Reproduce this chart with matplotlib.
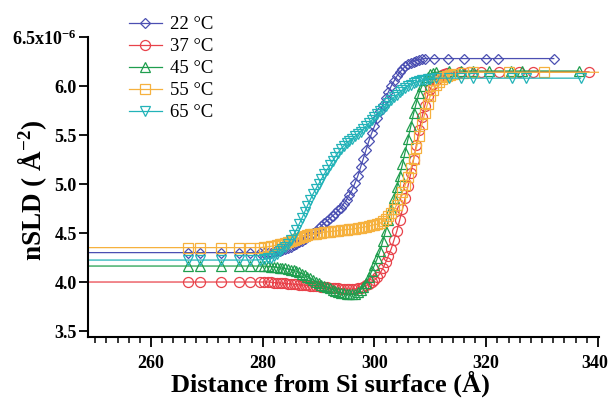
import matplotlib
matplotlib.use("Agg")
import matplotlib.pyplot as plt
import matplotlib.transforms as mtransforms
from matplotlib.ticker import FixedLocator, FixedFormatter, MultipleLocator

plt.rcParams["font.family"] = ["Liberation Serif", "DejaVu Serif"]
plt.rcParams["mathtext.fontset"] = "custom"
plt.rcParams["mathtext.rm"] = "Liberation Serif"
plt.rcParams["mathtext.bf"] = "Liberation Serif:bold"
plt.rcParams["mathtext.it"] = "Liberation Serif:italic"

# ---- depth grid (Å) ----
z_left = [240.0, 266.6, 268.75, 272.6, 275.7, 277.7, 279.5, 280.3]
z_dense = [281.0, 281.5, 282.0, 282.5, 283.0, 283.5, 284.0, 284.5, 285.0, 285.5,
           286.0, 286.5, 287.0, 287.5, 288.0, 288.5, 289.0, 289.5, 290.0, 290.5,
           291.0, 291.5, 292.0, 292.5, 293.0, 293.5, 294.0, 294.5, 295.0, 295.5,
           296.0, 296.5, 297.0, 297.5, 298.0, 298.5, 299.0, 299.5, 300.0, 300.5,
           301.0, 301.5, 302.0, 302.5, 303.0, 303.5, 304.0, 304.5, 305.0, 305.5,
           306.0, 306.5, 307.0, 307.5, 308.0, 308.5, 309.0, 309.5, 310.0, 310.5,
           311.0, 311.5, 312.0, 312.5, 313.0, 313.5, 314.0]

# ---- 22 °C ----
nsld_22_left = [4.30, 4.30, 4.30, 4.30, 4.30, 4.30, 4.30, 4.30]
nsld_22_core = [4.30, 4.30, 4.31, 4.315, 4.32, 4.33, 4.34, 4.35, 4.36, 4.375,
                4.39, 4.405, 4.42, 4.44, 4.46, 4.48, 4.50, 4.525, 4.55, 4.575,
                4.60, 4.625, 4.65, 4.675, 4.70, 4.73, 4.76, 4.80, 4.84, 4.89,
                4.94, 5.01, 5.08, 5.17, 5.26, 5.35, 5.44, 5.52, 5.59, 5.67,
                5.74, 5.81, 5.88, 5.94, 6.00, 6.05, 6.10, 6.14, 6.17, 6.20,
                6.22, 6.235, 6.25, 6.26, 6.27, 6.275, 6.28]
z_22_right = [310.7, 313.1, 316.1, 319.9, 322.1, 332.1]
nsld_22_right = [6.28, 6.28, 6.28, 6.28, 6.28, 6.28]

# ---- 37 °C ----
nsld_37_left = [4.00, 4.00, 4.00, 4.00, 4.00, 4.00, 4.00, 4.00]
nsld_37_core = [4.00, 3.998, 3.995, 3.993, 3.99, 3.988, 3.985, 3.983, 3.98, 3.978,
                3.975, 3.972, 3.97, 3.967, 3.965, 3.962, 3.96, 3.957, 3.955, 3.952,
                3.95, 3.947, 3.944, 3.941, 3.938, 3.935, 3.932, 3.93, 3.928, 3.927,
                3.927, 3.93, 3.935, 3.942, 3.952, 3.965, 3.98, 4.00, 4.02, 4.05,
                4.09, 4.14, 4.20, 4.27, 4.34, 4.43, 4.52, 4.63, 4.74, 4.86,
                4.98, 5.11, 5.25, 5.40, 5.55, 5.68, 5.80, 5.90, 5.97, 6.02,
                6.06, 6.09, 6.11, 6.12, 6.13]
z_37_right = [315.3, 317.0, 319.0, 322.3, 325.9, 328.3, 338.4]
nsld_37_right = [6.14, 6.145, 6.145, 6.145, 6.145, 6.145, 6.145]

# ---- 45 °C ----
nsld_45_left = [4.163, 4.163, 4.163, 4.163, 4.163, 4.163, 4.163, 4.162]
nsld_45_core = [4.16, 4.157, 4.155, 4.15, 4.145, 4.14, 4.138, 4.132, 4.125, 4.118,
                4.11, 4.098, 4.085, 4.07, 4.055, 4.038, 4.02, 4.002, 3.985, 3.972,
                3.96, 3.947, 3.935, 3.922, 3.91, 3.90, 3.89, 3.883, 3.878, 3.875,
                3.875, 3.882, 3.895, 3.918, 3.95, 3.995, 4.05, 4.11, 4.17, 4.24,
                4.32, 4.42, 4.52, 4.63, 4.74, 4.855, 4.97, 5.085, 5.20, 5.33,
                5.46, 5.59, 5.72, 5.83, 5.93, 6.00, 6.06, 6.09, 6.12, 6.135,
                6.14]
z_45_right = [313.4, 315.5, 317.6, 320.5, 324.4, 326.5, 336.6]
nsld_45_right = [6.153, 6.153, 6.153, 6.153, 6.153, 6.153, 6.153]

# ---- 55 °C ----
nsld_55_left = [4.351, 4.351, 4.351, 4.351, 4.351, 4.351, 4.352, 4.355]
nsld_55_core = [4.36, 4.365, 4.37, 4.378, 4.385, 4.39, 4.40, 4.41, 4.42, 4.43,
                4.44, 4.45, 4.46, 4.47, 4.48, 4.485, 4.49, 4.495, 4.50, 4.505,
                4.51, 4.512, 4.515, 4.518, 4.52, 4.525, 4.53, 4.532, 4.535, 4.538,
                4.54, 4.545, 4.55, 4.555, 4.56, 4.565, 4.57, 4.578, 4.585, 4.59,
                4.60, 4.62, 4.64, 4.67, 4.70, 4.74, 4.79, 4.85, 4.92, 4.99,
                5.07, 5.16, 5.26, 5.37, 5.49, 5.61, 5.72, 5.82, 5.90, 5.96,
                6.01, 6.045, 6.07, 6.09, 6.10, 6.11, 6.12]
z_55_right = [315.8, 317.6, 324.1, 330.4, 342.0]
nsld_55_right = [6.135, 6.14, 6.14, 6.14, 6.14]

# ---- 65 °C ----
nsld_65_left = [4.224, 4.224, 4.224, 4.224, 4.224, 4.224, 4.226, 4.232]
nsld_65_core = [4.24, 4.25, 4.27, 4.29, 4.32, 4.34, 4.36, 4.39, 4.43, 4.48,
                4.53, 4.59, 4.65, 4.715, 4.78, 4.84, 4.90, 4.95, 5.00, 5.05,
                5.10, 5.145, 5.19, 5.235, 5.28, 5.32, 5.36, 5.39, 5.42, 5.44,
                5.46, 5.485, 5.51, 5.535, 5.56, 5.59, 5.62, 5.65, 5.68, 5.71,
                5.74, 5.77, 5.80, 5.83, 5.86, 5.885, 5.91, 5.935, 5.96, 5.98,
                6.00, 6.015, 6.03, 6.04, 6.05, 6.06, 6.065, 6.07, 6.075]
z_65_right = [311.0, 313.4, 315.5, 317.6, 320.5, 324.7, 327.1, 336.9]
nsld_65_right = [6.08, 6.08, 6.08, 6.08, 6.08, 6.08, 6.08, 6.08]

labels = ["22 °C", "37 °C", "45 °C", "55 °C", "65 °C"]
colors = ["#4b4fb2", "#e8424a", "#1f9e4e", "#f6b13e", "#22b3b8"]
markers = ["D", "o", "^", "s", "v"]
marker_sizes = [5.4, 7.2, 7.2, 6.8, 7.2]

series = [
    (z_left + z_dense[:len(nsld_22_core)] + z_22_right,
     nsld_22_left + nsld_22_core + nsld_22_right),
    (z_left + z_dense[:len(nsld_37_core)] + z_37_right,
     nsld_37_left + nsld_37_core + nsld_37_right),
    (z_left + z_dense[:len(nsld_45_core)] + z_45_right,
     nsld_45_left + nsld_45_core + nsld_45_right),
    (z_left + z_dense[:len(nsld_55_core)] + z_55_right,
     nsld_55_left + nsld_55_core + nsld_55_right),
    (z_left + z_dense[:len(nsld_65_core)] + z_65_right,
     nsld_65_left + nsld_65_core + nsld_65_right),
]

W, H = 609, 404
fig = plt.figure(figsize=(W / 100, H / 100), dpi=100)
ax = fig.add_axes([88 / W, 1 - 337 / H, (599 - 88) / W, 300 / H])

handles = []
for (z, v), lab, c, m, ms in zip(series, labels, colors, markers, marker_sizes):
    h, = ax.plot(z, v, color=c, lw=0.9, marker=m, ms=ms, mfc="none",
                 mec=c, mew=0.9, label=lab)
    handles.append(h)

ax.set_xlim(248.7, 340.2)
ax.set_ylim(3.439, 6.5)

for s in ["top", "right"]:
    ax.spines[s].set_visible(False)
for s in ["left", "bottom"]:
    ax.spines[s].set_linewidth(1.5)

yt = [3.5, 4.0, 4.5, 5.0, 5.5, 6.0, 6.5]
ytl = ["3.5", "4.0", "4.5", "5.0", "5.5", "6.0", r"6.5x10$^{\mathbf{-6}}$"]
ax.yaxis.set_major_locator(FixedLocator(yt))
ax.yaxis.set_major_formatter(FixedFormatter(ytl))
ax.xaxis.set_major_locator(FixedLocator([260, 280, 300, 320, 340]))
ax.xaxis.set_minor_locator(MultipleLocator(2))
ax.tick_params(axis="y", which="major", direction="out", length=6.5, width=1.3,
               pad=1.5, labelsize=13)
ax.tick_params(axis="x", which="major", direction="out", length=7, width=1.3,
               pad=6, labelsize=13)
ax.tick_params(axis="x", which="minor", direction="out", length=4.3, width=1.1)
for t in ax.get_xticklabels() + ax.get_yticklabels():
    t.set_fontweight("bold")

# keep the last x tick label inside the figure edge
last_lbl = ax.get_xticklabels()[-1]
last_lbl.set_transform(last_lbl.get_transform() +
                       mtransforms.ScaledTranslation(-3 / 100, 0, fig.dpi_scale_trans))

ax.set_xlabel("Distance from Si surface (Å)", fontsize=19, fontweight="bold")
ax.xaxis.set_label_coords((330 - 88) / 511, -0.112)
ax.set_ylabel(r"nSLD ( Å$^{\mathbf{-2}}$)", fontsize=19.5, fontweight="bold")
ax.yaxis.set_label_coords(-0.076, 0.49)

leg = fig.legend(handles=handles, loc="upper left",
                 bbox_to_anchor=(129 / W, 1 - 16 / H), frameon=False,
                 fontsize=13.5, handlelength=1.75, handletextpad=0.45,
                 labelspacing=0.26, borderpad=0, borderaxespad=0)

fig.savefig("out.png", dpi=100)
